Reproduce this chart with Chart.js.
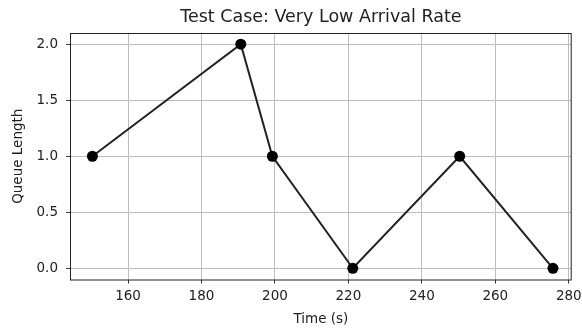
<!DOCTYPE html>
<html>
<head>
<meta charset="utf-8">
<script src="https://cdn.jsdelivr.net/npm/chart.js@4"></script>
<style>
  html, body { margin: 0; padding: 0; background: #fff; }
  #wrap { width: 582px; height: 328px; }
</style>
</head>
<body>
<div id="wrap"><canvas id="cvs"></canvas></div>
<script>
const times = [150.3, 190.7, 199.3, 221.2, 250.3, 275.7];
const queueLen = [1, 2, 1, 0, 1, 0];
const xTicks = [160, 180, 200, 220, 240, 260, 280];
const yTicks = [0, 0.5, 1.0, 1.5, 2.0];
const chartTitle = 'Test Case: Very Low Arrival Rate';

const FONT = "'DejaVu Sans', sans-serif";

// matplotlib style: full frame round the plot area, title centred over the axes
const frame = {
    id: 'frame',
    afterDatasetsDraw(chart) {
        const a = chart.chartArea, c = chart.ctx;
        c.save();
        c.strokeStyle = '#222';
        c.lineWidth = 1;
        c.strokeRect(a.left + 0.5, a.top + 0.5, a.right - a.left - 1, a.bottom - a.top);
        c.fillStyle = '#222';
        c.font = '17.5px ' + FONT;
        c.textAlign = 'center';
        c.textBaseline = 'middle';
        c.fillText(chartTitle, (a.left + a.right) / 2, 17);
        c.restore();
    }
};

new Chart(document.getElementById('cvs'), {
    type: 'line',
    data: {
        datasets: [{
            data: times.map((t, i) => ({ x: t, y: queueLen[i] })),
            borderColor: '#222',
            borderWidth: 2,
            pointBackgroundColor: '#000',
            pointBorderWidth: 0,
            pointRadius: 5.5,
            pointHoverRadius: 5.5,
            tension: 0
        }]
    },
    options: {
        responsive: true,
        maintainAspectRatio: false,
        animation: false,
        layout: { padding: { left: 9, right: 10.3, top: 33, bottom: 0 } },
        plugins: {
            legend: { display: false },
            tooltip: { enabled: false },
            title: { display: false }
        },
        scales: {
            x: {
                type: 'linear',
                min: 144.2,
                max: 280.8,
                afterBuildTicks: s => { s.ticks = xTicks.map(v => ({ value: v })); },
                afterFit: s => { s.height = 48.5; s.paddingLeft = 0; s.paddingRight = 0; },
                grid: { color: '#bdbdbd', tickColor: '#333', tickLength: 4, lineWidth: 1 },
                border: { display: false },
                ticks: { color: '#222', font: { family: FONT, size: 13.5 }, padding: 5, maxRotation: 0 },
                title: { display: true, text: 'Time (s)', color: '#222', font: { family: FONT, size: 13.5 }, padding: { top: 2, bottom: 0 } }
            },
            y: {
                min: -0.1,
                max: 2.1,
                afterBuildTicks: s => { s.ticks = yTicks.map(v => ({ value: v })); },
                afterFit: s => { s.width = 61; s.paddingTop = 0; s.paddingBottom = 0; },
                grid: { color: '#bdbdbd', tickColor: '#333', tickLength: 4, lineWidth: 1 },
                border: { display: false },
                ticks: { color: '#222', font: { family: FONT, size: 13.5 }, padding: 8, callback: v => v.toFixed(1) },
                title: { display: true, text: 'Queue Length', color: '#222', font: { family: FONT, size: 13.5 }, padding: { top: 1, bottom: 2 } }
            }
        }
    },
    plugins: [frame]
});
</script>
</body>
</html>
